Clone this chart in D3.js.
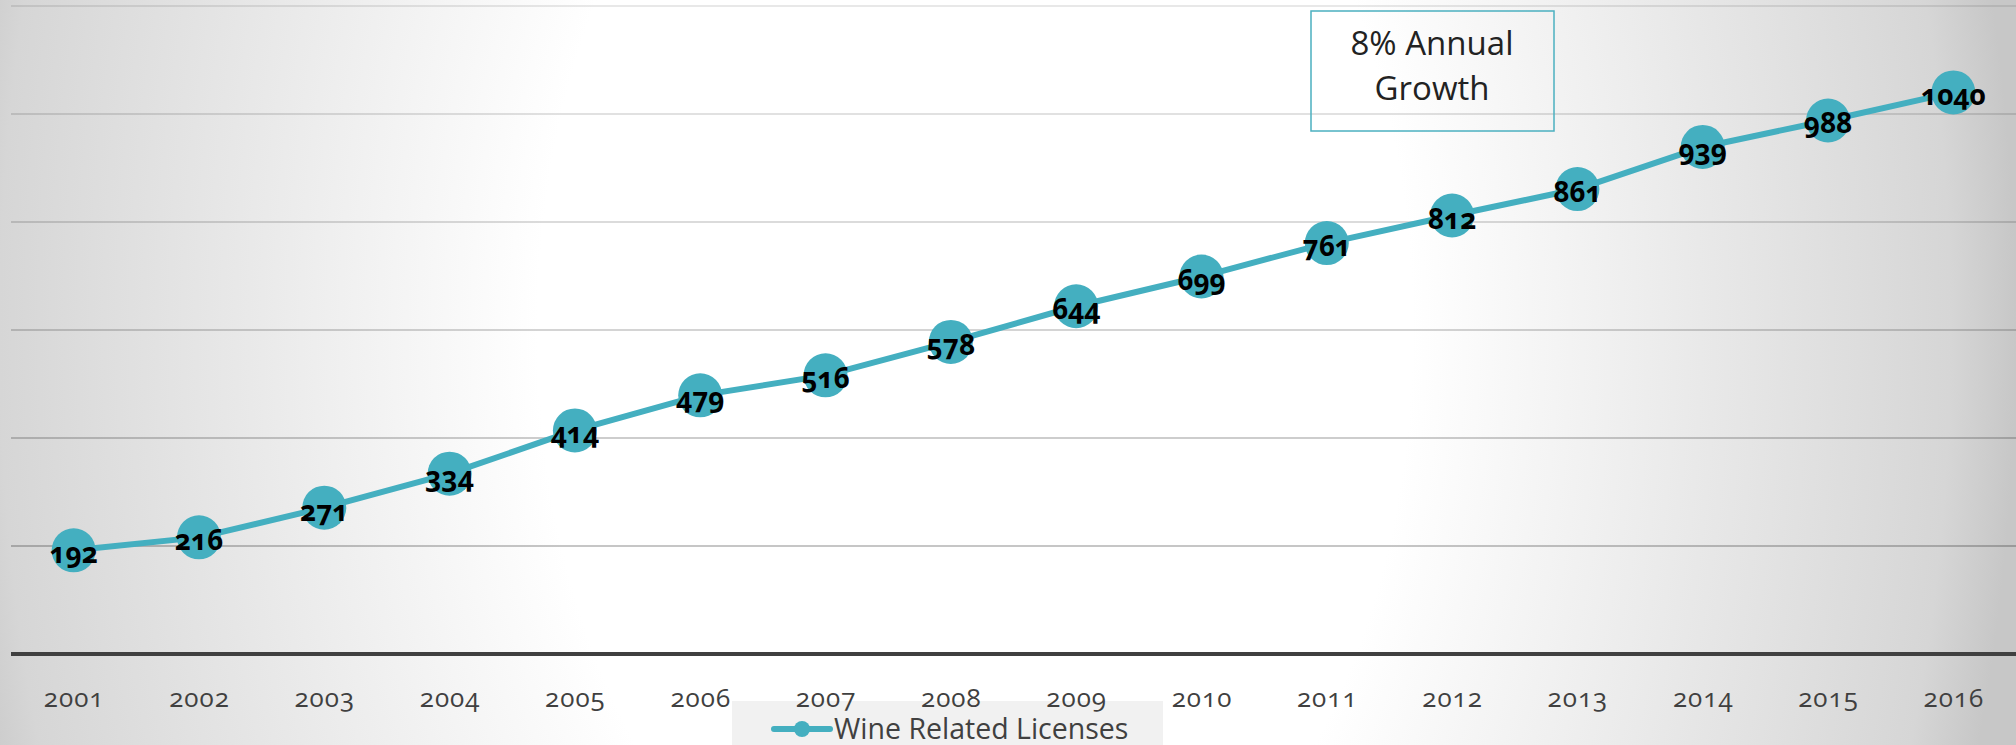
<!DOCTYPE html>
<html>
<head>
<meta charset="utf-8">
<script src="https://cdn.jsdelivr.net/npm/d3@7/dist/d3.min.js"></script>
<style>
  html, body { margin: 0; padding: 0; background: #fff; }
  svg { display: block; }
</style>
</head>
<body>
<svg id="chart" width="2016" height="745"></svg>
<script>
const years = ["2001","2002","2003","2004","2005","2006","2007","2008","2009","2010","2011","2012","2013","2014","2015","2016"];
const licenses = [192,216,271,334,414,479,516,578,644,699,761,812,861,939,988,1040];
const yTicks = [200,400,600,800,1000,1200];
const seriesName = "Wine Related Licenses";
const annotationLines = ["8% Annual", "Growth"];

const W = 2016, H = 745;
const teal = "#44afc0";
const svg = d3.select("#chart");

// background gradient
const defs = svg.append("defs");
const g = defs.append("radialGradient")
  .attr("id", "bg").attr("gradientUnits", "userSpaceOnUse")
  .attr("cx", 975).attr("cy", 330).attr("r", 1041)
  .attr("gradientTransform", "translate(975,330) scale(1,1.5) translate(-975,-330)");
g.append("stop").attr("offset", 0).attr("stop-color", "#ffffff");
g.append("stop").attr("offset", 0.42).attr("stop-color", "#ffffff");
g.append("stop").attr("offset", 0.937).attr("stop-color", "#d6d6d6");
g.append("stop").attr("offset", 1).attr("stop-color", "#c7c7c7");
svg.append("rect").attr("width", W).attr("height", H).attr("fill", "url(#bg)");

const x = d3.scalePoint().domain(years).range([11, W]).padding(0.5);
const y = d3.scaleLinear().domain([0, 1200]).range([654, 6]);
const gridOpacity = d3.scaleLinear().domain([200, 1200]).range([0.3, 0.12]);

// gridlines
svg.append("g").selectAll("line").data(yTicks).join("line")
  .attr("x1", 11).attr("x2", W)
  .attr("y1", d => y(d)).attr("y2", d => y(d))
  .attr("stroke", "#000").attr("stroke-opacity", d => gridOpacity(d))
  .attr("stroke-width", 1.5);

// legend (drawn beneath the axis labels)
const lg = svg.append("g");
lg.append("rect").attr("x", 732).attr("y", 701).attr("width", 431).attr("height", 44).attr("fill", "#f1f1f1");
lg.append("line").attr("x1", 774).attr("x2", 830).attr("y1", 729).attr("y2", 729)
  .attr("stroke", teal).attr("stroke-width", 6).attr("stroke-linecap", "round");
lg.append("circle").attr("cx", 802).attr("cy", 729).attr("r", 8).attr("fill", teal);
lg.append("text").attr("x", 834).attr("y", 739).attr("fill", "#404040")
  .style("font-family", "'Open Sans', 'Noto Sans', sans-serif")
  .style("font-size", "28.5px")
  .text(seriesName);

// x axis baseline + labels
const xAxis = svg.append("g").attr("transform", `translate(0,${y(0)})`)
  .call(d3.axisBottom(x).tickSize(0).tickPadding(0));
xAxis.select(".domain").attr("d", `M11,0H${W}`).attr("stroke", "#404040").attr("stroke-width", 4);
xAxis.selectAll(".tick text")
  .attr("y", 53).attr("dy", 0)
  .attr("fill", "#404040")
  .style("font-family", "'Open Sans', 'Noto Sans', sans-serif")
  .style("font-size", "26px")
  .style("letter-spacing", "1px")
  .style("font-variant-numeric", "oldstyle-nums");

// line
const line = d3.line().x((d, i) => x(years[i])).y(d => y(d));
svg.append("path").datum(licenses)
  .attr("d", line).attr("fill", "none")
  .attr("stroke", teal).attr("stroke-width", 6).attr("stroke-linejoin", "round");

// markers
svg.append("g").selectAll("circle").data(licenses).join("circle")
  .attr("cx", (d, i) => x(years[i])).attr("cy", d => y(d))
  .attr("r", 22).attr("fill", teal);

// data labels
svg.append("g").selectAll("text").data(licenses).join("text")
  .attr("x", (d, i) => x(years[i])).attr("y", d => y(d) + 13)
  .attr("text-anchor", "middle")
  .attr("fill", "#000")
  .style("font-family", "'Open Sans', 'Noto Sans', sans-serif")
  .style("font-weight", 700)
  .style("font-size", "28px")
  .style("font-variant-numeric", "oldstyle-nums")
  .text(d => d);

// annotation box
const ann = svg.append("g");
ann.append("rect").attr("x", 1311).attr("y", 11).attr("width", 243).attr("height", 120)
  .attr("fill", "none").attr("stroke", "#4bb0c0").attr("stroke-width", 1.5);
ann.selectAll("text").data(annotationLines).join("text")
  .attr("x", 1432).attr("y", (d, i) => 55 + i * 45)
  .attr("text-anchor", "middle").attr("fill", "#222")
  .style("font-family", "'Open Sans', 'Noto Sans', sans-serif")
  .style("font-size", "33px")
  .text(d => d);
</script>
</body>
</html>
